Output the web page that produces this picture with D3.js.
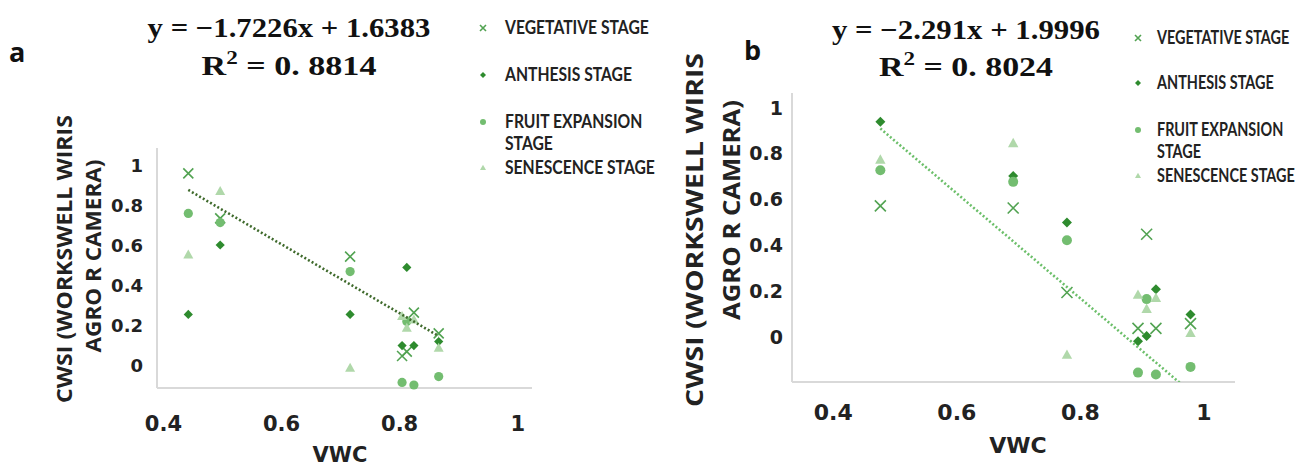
<!DOCTYPE html>
<html>
<head>
<meta charset="utf-8">
<script src="https://cdn.jsdelivr.net/npm/d3@7"></script>
<style>
  html, body { margin: 0; padding: 0; background: #ffffff; }
  svg { display: block; }
</style>
</head>
<body>
<svg id="chart" width="1301" height="468"></svg>
<script>
// ---- Data -----------------------------------------------------------------
const stageNames = ["VEGETATIVE STAGE", "ANTHESIS STAGE", "FRUIT EXPANSION STAGE", "SENESCENCE STAGE"];

// Panel a: soil VWC of each plot and CWSI per phenological stage
const vwcA        = [0.443, 0.497, 0.717, 0.805, 0.813, 0.825, 0.867];
const vegetativeA = [0.958, 0.733, 0.542, 0.045, 0.067, 0.262, 0.158];
const anthesisA   = [0.253, 0.600, 0.253, 0.097, 0.488, 0.097, 0.117];
const fruitA      = [0.758, 0.712, 0.467, -0.087, 0.217, -0.100, -0.058];
const senescenceA = [0.550, 0.867, -0.017, 0.242, 0.183, 0.225, 0.083];
const slopeA = -1.7226, interceptA = 1.6383, r2A = "0.8814";

// Panel b
const vwcB        = [0.477, 0.692, 0.779, 0.894, 0.908, 0.923, 0.979];
const vegetativeB = [0.569, 0.560, 0.191, 0.034, 0.445, 0.034, 0.055];
const anthesisB   = [0.936, 0.700, 0.496, -0.022, 0.001, 0.205, 0.095];
const fruitB      = [0.725, 0.674, 0.419, -0.159, 0.162, -0.167, -0.134];
const senescenceB = [0.769, 0.841, -0.083, 0.179, 0.117, 0.165, 0.012];
const slopeB = -2.291, interceptB = 1.9996, r2B = "0.8024";

const xTickValues = [0.4, 0.6, 0.8, 1];
const yTickValues = [0, 0.2, 0.4, 0.6, 0.8, 1];

// ---- Styles ---------------------------------------------------------------
const TEXT = "#222222";
const stageStyles = [
  { shape: "x",        color: "#52a352" },
  { shape: "diamond",  color: "#2e8b2e" },
  { shape: "circle",   color: "#73bd70" },
  { shape: "triangle", color: "#b0d8aa" }
];

function markerPath(shape, r) {
  switch (shape) {
    case "x":
      return `M${-r},${-r}L${r},${r}M${-r},${r}L${r},${-r}`;
    case "diamond":
      return `M0,${-r}L${r},0L0,${r}L${-r},0Z`;
    case "circle":
      return d3.symbol(d3.symbolCircle, Math.PI * r * r)();
    case "triangle": {
      const h = r * 1.8;
      return `M0,${-h * 0.62}L${r},${h * 0.38}L${-r},${h * 0.38}Z`;
    }
  }
}

function drawMarker(sel, shape, color, r) {
  const p = sel.append("path").attr("d", markerPath(shape, r));
  if (shape === "x") p.attr("fill", "none").attr("stroke", color).attr("stroke-width", 1.6);
  else p.attr("fill", color);
  return p;
}

// Squeeze a text horizontally so its rendered width equals `width`.
// `place` is the transform prefix (translate / rotate) applied before the squeeze.
function squeeze(t, place, width) {
  const w = t.node().getComputedTextLength();
  t.attr("transform", `${place} scale(${width / w},1)`);
}

const svg = d3.select("#chart");

function drawPanel(cfg) {
  const g = svg.append("g");
  const x = d3.scaleLinear().domain(cfg.xDomain).range([cfg.left, cfg.right]);
  const y = d3.scaleLinear().domain(cfg.yDomain).range([cfg.bottom, cfg.top]);

  // axis lines
  g.append("line")
    .attr("x1", cfg.left).attr("x2", cfg.left)
    .attr("y1", cfg.top).attr("y2", cfg.bottom)
    .attr("stroke", "#d9d9d9").attr("stroke-width", 2);
  g.append("line")
    .attr("x1", cfg.left).attr("x2", cfg.right)
    .attr("y1", cfg.bottom).attr("y2", cfg.bottom)
    .attr("stroke", "#d9d9d9").attr("stroke-width", 2);

  // tick labels
  const xAxis = g.append("g").attr("transform", `translate(0,${cfg.bottom})`)
    .call(d3.axisBottom(x).tickValues(xTickValues).tickSize(0).tickFormat(d3.format("~g")));
  xAxis.select(".domain").remove();
  xAxis.selectAll("text")
    .attr("y", cfg.xTickOffset).attr("dy", 0)
    .attr("fill", TEXT)
    .style("font-family", "'DejaVu Sans', sans-serif")
    .style("font-weight", "bold")
    .style("font-size", cfg.xTickFont + "px");

  const yAxis = g.append("g").attr("transform", `translate(${cfg.left},0)`)
    .call(d3.axisLeft(y).tickValues(yTickValues).tickSize(0).tickFormat(d3.format("~g")));
  yAxis.select(".domain").remove();
  yAxis.selectAll("text")
    .attr("x", -cfg.yTickOffset).attr("dy", "0.36em")
    .attr("fill", TEXT)
    .style("font-family", "'DejaVu Sans', sans-serif")
    .style("font-weight", "bold")
    .style("font-size", cfg.yTickFont + "px");

  // axis titles
  g.append("text")
    .attr("x", cfg.xTitle[0]).attr("y", cfg.xTitle[1])
    .attr("text-anchor", "middle").attr("fill", TEXT)
    .style("font-family", "'DejaVu Sans', sans-serif")
    .style("font-weight", "bold")
    .style("font-size", cfg.xTitleFont + "px")
    .text("VWC");

  cfg.yTitle.forEach(tt => {
    const t = g.append("text")
      .attr("text-anchor", "middle").attr("fill", TEXT)
      .style("font-family", "'Open Sans', sans-serif")
      .style("font-weight", "bold")
      .style("font-size", cfg.yTitleFont + "px")
      .text(tt.text);
    squeeze(t, `translate(${tt.x},${tt.y}) rotate(-90)`, tt.len);
  });

  // scatter points, one series per stage
  const plot = g.append("g");
  cfg.series.forEach((vals, i) => {
    const st = stageStyles[i];
    const pts = vals.map((v, j) => ({ x: cfg.vwc[j], y: v }));
    plot.append("g").selectAll("g")
      .data(pts).join("g")
      .attr("transform", d => `translate(${x(d.x)},${y(d.y)})`)
      .each(function () { drawMarker(d3.select(this), st.shape, st.color, cfg.markerR[i]); });
  });

  // linear trendline from the fitted equation
  const clipId = "clip" + cfg.id;
  g.append("clipPath").attr("id", clipId)
    .append("rect")
    .attr("x", cfg.left).attr("y", cfg.top)
    .attr("width", cfg.right - cfg.left).attr("height", cfg.bottom - cfg.top);
  const ext = d3.extent(cfg.vwc);
  const line = d3.line().x(d => x(d)).y(d => y(cfg.slope * d + cfg.intercept));
  g.append("path")
    .datum(ext)
    .attr("clip-path", `url(#${clipId})`)
    .attr("d", line)
    .attr("fill", "none")
    .attr("stroke", cfg.trendColor)
    .attr("stroke-width", 2.6)
    .attr("stroke-dasharray", "2,2.2");

  // equation and R²
  const eqText = `y = \u2212${Math.abs(cfg.slope)}x + ${cfg.intercept}`;
  const eq = g.append("text")
    .attr("text-anchor", "middle").attr("fill", "#111")
    .style("font-family", "'Liberation Serif', 'DejaVu Serif', serif")
    .style("font-weight", "bold")
    .style("font-size", "28px")
    .text(eqText);
  squeeze(eq, `translate(${cfg.eq.x},${cfg.eq.y1})`, cfg.eq.len1);

  const r2 = g.append("text")
    .attr("text-anchor", "middle").attr("fill", "#111")
    .style("font-family", "'Liberation Serif', 'DejaVu Serif', serif")
    .style("font-weight", "bold")
    .style("font-size", "28px");
  r2.append("tspan").text("R");
  r2.append("tspan").attr("dy", -11).style("font-size", "19px").text("2");
  r2.append("tspan").attr("dy", 11).text(" = " + cfg.r2.replace(".", ". "));
  squeeze(r2, `translate(${cfg.eq.x},${cfg.eq.y2})`, cfg.eq.len2);

  // panel letter
  g.append("text")
    .attr("x", cfg.letter.x).attr("y", cfg.letter.y)
    .attr("fill", "#111")
    .style("font-family", "'Open Sans', sans-serif")
    .style("font-weight", "bold")
    .style("font-size", "27px")
    .text(cfg.id);

  // legend
  const lg = g.append("g");
  const labels = [];
  stageNames.forEach((name, i) => {
    const st = stageStyles[i];
    const cy = cfg.legend.rows[i];
    const m = lg.append("g").attr("transform", `translate(${cfg.legend.mx},${cy})`);
    drawMarker(m, st.shape, st.color, cfg.legend.r);
    const lines = name === "FRUIT EXPANSION STAGE" ? ["FRUIT EXPANSION", "STAGE"] : [name];
    lines.forEach((ln, k) => {
      const t = lg.append("text")
        .attr("dy", "0.36em").attr("fill", TEXT)
        .style("font-family", "Lato, 'Open Sans', sans-serif")
        .style("font-weight", "bold")
        .style("font-size", cfg.legend.font + "px")
        .text(ln);
      labels.push({ t, y: cy + k * cfg.legend.wrap });
    });
  });
  // condense the legend labels by a common factor so the widest fits
  const widest = d3.max(labels, d => d.t.node().getComputedTextLength());
  const k = cfg.legend.width / widest;
  labels.forEach(({ t, y: ly }) => {
    t.attr("transform", `translate(${cfg.legend.tx},${ly}) scale(${k},1)`);
  });
}

drawPanel({
  id: "a",
  vwc: vwcA,
  series: [vegetativeA, anthesisA, fruitA, senescenceA],
  slope: slopeA, intercept: interceptA, r2: r2A,
  trendColor: "#3f6a2c",
  left: 157, right: 532, top: 148, bottom: 388,
  xDomain: [0.39, 1.025], yDomain: [-0.115, 1.085],
  xTickOffset: 43, xTickFont: 21,
  yTickOffset: 14, yTickFont: 18,
  xTitle: [340, 462], xTitleFont: 21,
  yTitle: [
    { text: "CWSI (WORKSWELL WIRIS", x: 72, y: 259, len: 288 },
    { text: "AGRO R CAMERA)", x: 101, y: 256, len: 193 }
  ],
  yTitleFont: 21,
  markerR: [5, 4.6, 4.6, 5],
  eq: { x: 289, y1: 37, y2: 75, len1: 283, len2: 175 },
  letter: { x: 9, y: 62 },
  legend: { mx: 483, tx: 505, rows: [28, 75, 122, 168], wrap: 22, r: 3, font: 18, width: 150 }
});

drawPanel({
  id: "b",
  vwc: vwcB,
  series: [vegetativeB, anthesisB, fruitB, senescenceB],
  slope: slopeB, intercept: interceptB, r2: r2B,
  trendColor: "#6cbf6a",
  left: 792, right: 1235, top: 93, bottom: 382,
  xDomain: [0.334, 1.051], yDomain: [-0.2, 1.062],
  xTickOffset: 38, xTickFont: 22,
  yTickOffset: 9, yTickFont: 19,
  xTitle: [1018, 453], xTitleFont: 22,
  yTitle: [
    { text: "CWSI (WORKSWELL WIRIS", x: 703, y: 230, len: 354 },
    { text: "AGRO R CAMERA)", x: 740, y: 210, len: 220 }
  ],
  yTitleFont: 23,
  markerR: [5.5, 5, 5, 5.2],
  eq: { x: 966, y1: 39, y2: 76, len1: 268, len2: 174 },
  letter: { x: 744, y: 60 },
  legend: { mx: 1138, tx: 1157, rows: [38, 83, 130, 176], wrap: 22, r: 3, font: 18, width: 138 }
});
</script>
</body>
</html>
